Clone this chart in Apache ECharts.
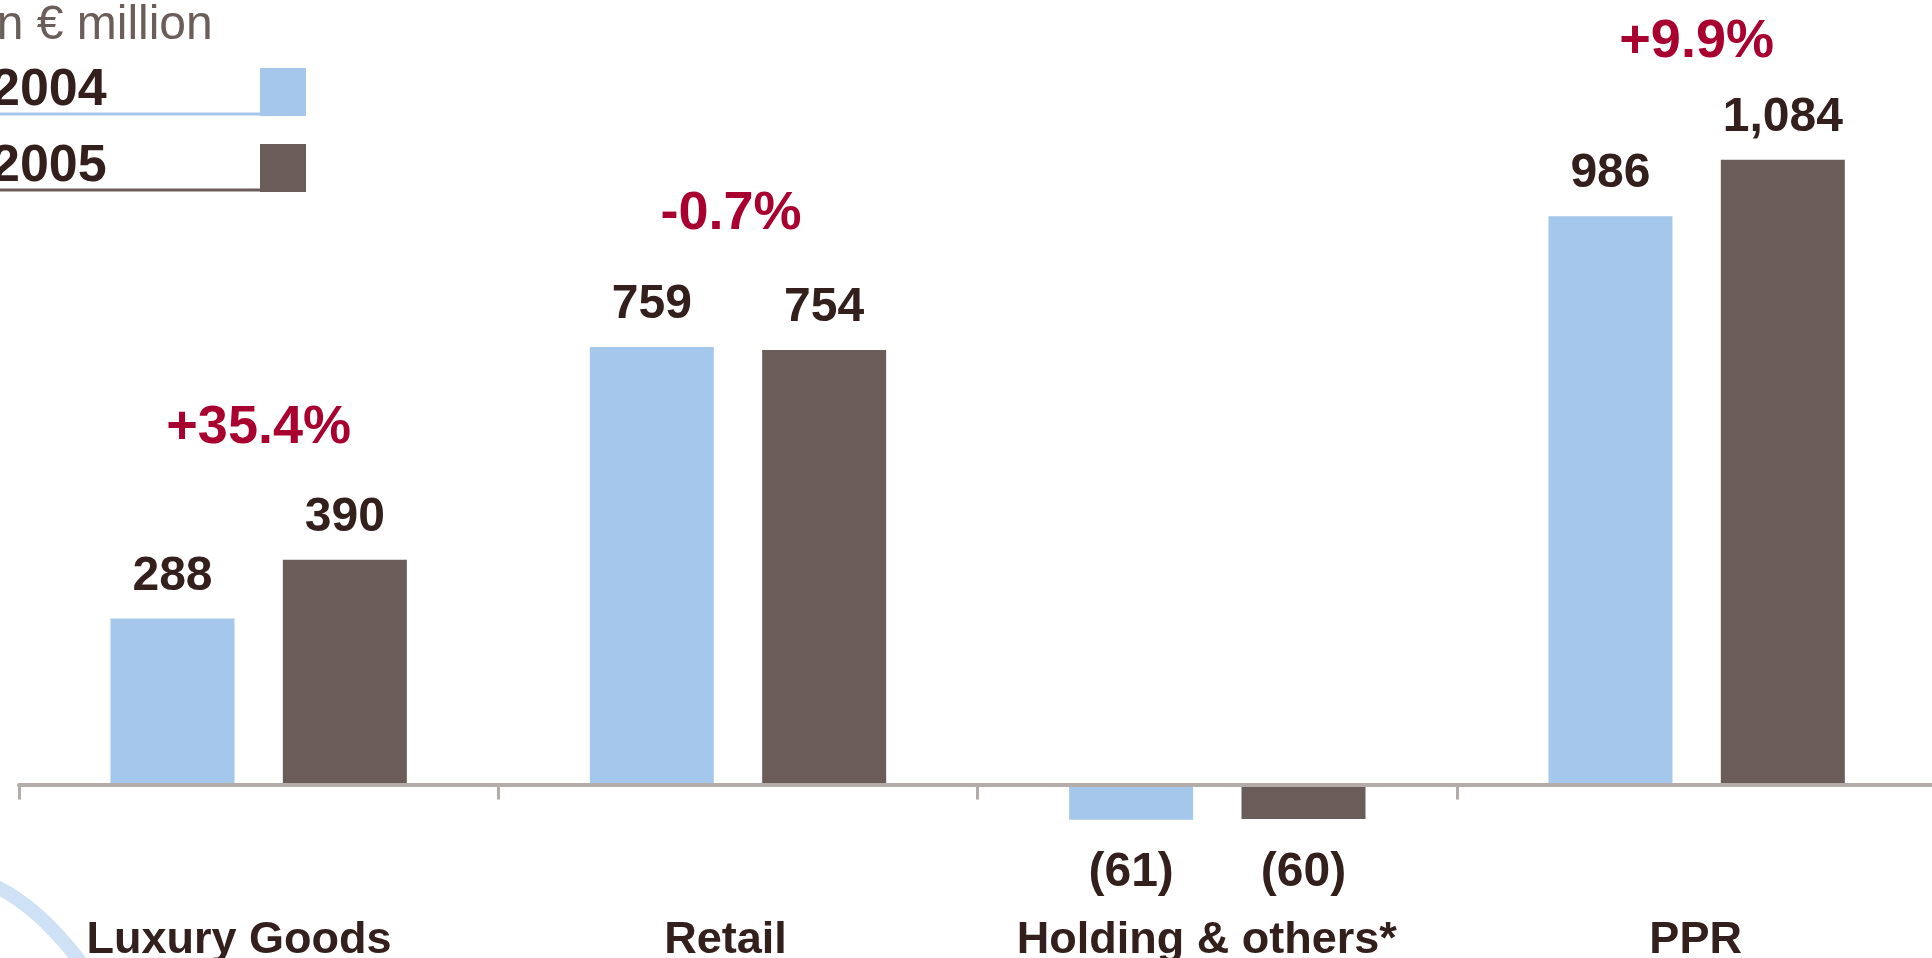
<!DOCTYPE html>
<html>
<head>
<meta charset="utf-8">
<title>Operating income by division</title>
<script src="https://cdn.jsdelivr.net/npm/echarts@6/dist/echarts.min.js"></script>
<style>
  html, body { margin: 0; padding: 0; background: #ffffff; }
  #chart { width: 1932px; height: 958px; }
</style>
</head>
<body>
<div id="chart"></div>
<script>
// Divisions and yearly figures (€ million)
const categories = ['Luxury Goods', 'Retail', 'Holding & others*', 'PPR'];
const seriesNames = ['2004', '2005'];
const values2004 = [288, 759, -61, 986];
const values2005 = [390, 754, -60, 1084];
const unitText = 'in € million';

const FONT = '"Liberation Sans", Arial, Helvetica, sans-serif';
const TEXT_DARK = '#33201d';
const ACCENT = '#a8002f';
const AXIS_GREY = '#b3aca9';
const seriesColors = ['#a5c7eb', '#6a5c58'];

// Value axis range
const Y_MIN = -200, Y_MAX = 1300;
const GRID_TOP = 35.2, GRID_BOTTOM = 58.2;

function fmtValue(v) {
  const s = Math.abs(v).toLocaleString('en-US');
  return v < 0 ? '(' + s + ')' : s;
}

function barData(values) {
  return values.map(v => ({
    value: v,
    label: {
      position: v < 0 ? 'bottom' : 'top',
      distance: v < 0 ? 29.5 : 18
    }
  }));
}

// Division names under the baseline, nudged slightly left of their slot
const catShift = [-19.7, -12.5, -10.5, -1];
const categoryLabelData = categories.map((c, i) => ({
  value: [c, 0],
  label: { formatter: c, offset: [catShift[i], 0] }
}));

// Year-on-year change, shown above each division with positive results
const pctDistance = [105, 106, 0, 91];
const pctOffset = [[0, 0], [-7, 0], [0, 0], [0, 0]];
const changeData = [];
categories.forEach((c, i) => {
  const a = values2004[i], b = values2005[i];
  if (a > 0 && b > 0) {
    const pct = (b - a) / a * 100;
    const txt = (pct >= 0 ? '+' : '-') + Math.abs(pct).toFixed(1) + '%';
    changeData.push({
      value: [c, Math.max(a, b)],
      label: { formatter: txt, distance: pctDistance[i], offset: pctOffset[i] }
    });
  }
});

// Legend drawn as text with a coloured underline and swatch on the right
const legendGraphics = [];
seriesNames.forEach((name, i) => {
  const rowTop = 68 + i * 76;
  legendGraphics.push({
    type: 'text',
    left: -9,
    top: rowTop - 3,
    style: {
      text: name,
      font: 'bold 52px ' + FONT,
      fill: TEXT_DARK
    },
    z: 10
  });
  legendGraphics.push({
    type: 'rect',
    shape: { x: -5, y: rowTop + 44.5, width: 266, height: 3 },
    style: { fill: seriesColors[i] },
    z: 10
  });
  legendGraphics.push({
    type: 'rect',
    shape: { x: 260, y: rowTop, width: 46, height: 48 },
    style: { fill: seriesColors[i] },
    z: 10
  });
});

const chart = echarts.init(document.getElementById('chart'), null, { renderer: 'canvas' });

chart.setOption({
  animation: false,
  backgroundColor: '#ffffff',
  title: {
    text: unitText,
    left: -14,
    top: 1.5,
    padding: 0,
    textStyle: { fontFamily: FONT, fontSize: 48, fontWeight: 'normal', color: '#6b5e5a' }
  },
  grid: {
    left: 19, width: 1917.3, top: GRID_TOP, bottom: GRID_BOTTOM,
    containLabel: false, outerBoundsMode: 'none'
  },
  xAxis: {
    type: 'category',
    data: categories,
    z: 5,
    axisLine: { show: true, lineStyle: { color: AXIS_GREY, width: 4 } },
    axisTick: { show: true, length: 15, lineStyle: { color: AXIS_GREY, width: 3 } },
    axisLabel: { show: false }
  },
  yAxis: { type: 'value', min: Y_MIN, max: Y_MAX, show: false, splitLine: { show: false } },
  series: [
    {
      name: seriesNames[0],
      type: 'bar',
      data: barData(values2004),
      barWidth: 124,
      barGap: '39%',
      itemStyle: { color: seriesColors[0] },
      label: {
        show: true,
        formatter: p => fmtValue(p.value),
        fontFamily: FONT,
        fontSize: 48,
        fontWeight: 'bold',
        color: TEXT_DARK
      }
    },
    {
      name: seriesNames[1],
      type: 'bar',
      data: barData(values2005),
      barWidth: 124,
      barGap: '39%',
      itemStyle: { color: seriesColors[1] },
      label: {
        show: true,
        formatter: p => fmtValue(p.value),
        fontFamily: FONT,
        fontSize: 48,
        fontWeight: 'bold',
        color: TEXT_DARK
      }
    },
    {
      name: 'change',
      type: 'scatter',
      data: changeData,
      symbolSize: 0.1,
      itemStyle: { color: 'rgba(0,0,0,0)', opacity: 1 },
      label: {
        show: true,
        position: 'top',
        fontFamily: FONT,
        fontSize: 54,
        fontWeight: 'bold',
        color: ACCENT,
        opacity: 1
      },
      emphasis: { disabled: true },
      z: 6
    },
    {
      name: 'division',
      type: 'scatter',
      data: categoryLabelData,
      symbolSize: 0.1,
      itemStyle: { color: 'rgba(0,0,0,0)', opacity: 1 },
      label: {
        show: true,
        position: 'bottom',
        distance: 134,
        fontFamily: FONT,
        fontSize: 45,
        fontWeight: 'bold',
        color: TEXT_DARK,
        opacity: 1
      },
      emphasis: { disabled: true },
      z: 6
    }
  ],
  graphic: [
    {
      type: 'bezierCurve',
      shape: { x1: -10, y1: 884, cpx1: 40, cpy1: 905, x2: 90, y2: 975 },
      style: { stroke: '#cfe1f4', lineWidth: 14, fill: null },
      z: 0
    }
  ].concat(legendGraphics)
});
</script>
</body>
</html>
